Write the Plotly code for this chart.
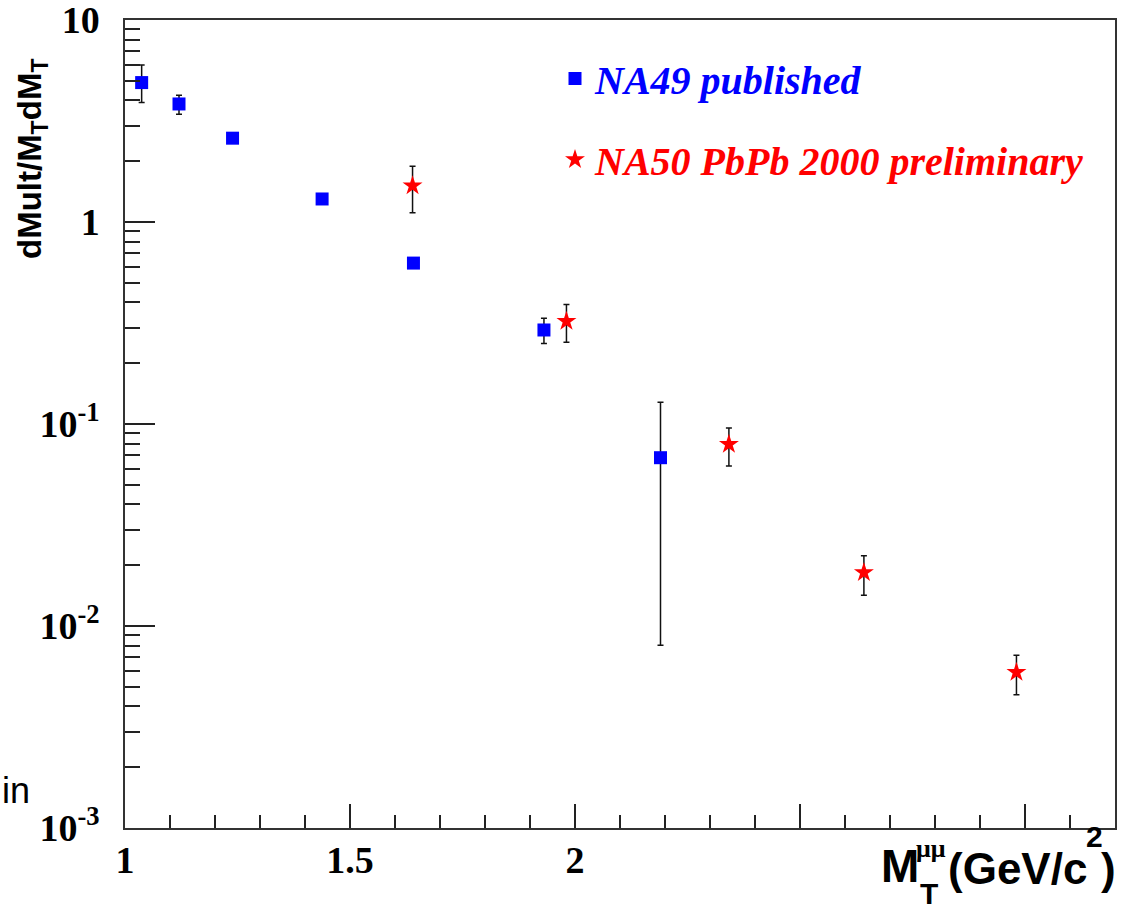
import plotly.graph_objects as go

# ---- NA49 published (blue squares) ----
na49_mt = [1.037, 1.120, 1.239, 1.438, 1.641, 1.931, 2.190]
na49_val = [4.90, 3.84, 2.60, 1.30, 0.626, 0.292, 0.0681]
na49_hi = [5.99, 4.24, None, None, None, 0.334, 0.128]
na49_lo = [3.91, 3.42, None, None, None, 0.250, 0.00802]

# ---- NA50 PbPb 2000 preliminary (red stars) ----
na50_mt = [1.639, 1.981, 2.342, 2.642, 2.981]
na50_val = [1.51, 0.323, 0.0793, 0.0184, 0.0059]
na50_hi = [1.89, 0.391, 0.0955, 0.0223, 0.00716]
na50_lo = [1.11, 0.254, 0.0619, 0.0142, 0.00457]

# ---- axis ticks ----
x_major = [1, 1.5, 2, 2.5, 3]
x_major_text = ["1", "1.5", "2", "", ""]
y_major = [0.001, 0.01, 0.1, 1, 10]
y_major_text = ["10<sup>-3</sup>", "10<sup>-2</sup>", "10<sup>-1</sup>", "1", "10"]
y_minor = [k * 10.0 ** e for e in range(-3, 1) for k in range(2, 10)]


def err_plus(vals, hi):
    return [None if h is None else h - v for v, h in zip(vals, hi)]


def err_minus(vals, lo):
    return [None if l is None else v - l for v, l in zip(vals, lo)]


W, H = 1134, 917
L, R, T, B = 125, 19, 20, 89
PW, PH = W - L - R, H - T - B


def px(xp):
    return (xp - L) / PW


def py(yp):
    return (H - B - yp) / PH


fig = go.Figure()

fig.add_trace(go.Scatter(
    x=na49_mt, y=na49_val, mode="markers",
    name="<span style='color:#0000ff'>NA49 published</span>",
    legendgroup="na49",
    marker=dict(symbol="square", size=13, color="#0000ff",
                line=dict(width=0)),
    error_y=dict(type="data", symmetric=False,
                 array=err_plus(na49_val, na49_hi),
                 arrayminus=err_minus(na49_val, na49_lo),
                 color="#111111", thickness=1.5, width=3),
))

fig.add_trace(go.Scatter(
    x=na50_mt, y=na50_val, mode="markers",
    name="<span style='color:#ff0000'>NA50 PbPb 2000 preliminary</span>",
    legendgroup="na50",
    marker=dict(symbol="star", size=15, color="#ff0000",
                line=dict(width=0)),
    error_y=dict(type="data", symmetric=False,
                 array=err_plus(na50_val, na50_hi),
                 arrayminus=err_minus(na50_val, na50_lo),
                 color="#111111", thickness=1.5, width=3),
))

tick_font = dict(family="Liberation Serif", size=38, color="black",
                 weight="bold")

fig.update_xaxes(
    range=[1, 3.2], showgrid=False, zeroline=False, automargin=False,
    showline=True, linecolor="#333333", linewidth=1.5, mirror=True,
    tickmode="array", tickvals=x_major, ticktext=x_major_text,
    ticks="inside", ticklen=24, tickwidth=1.5, tickcolor="#222222",
    tickfont=tick_font, ticklabelstandoff=-2, ticklabeloverflow="allow",
    minor=dict(ticks="inside", ticklen=13, tickwidth=1.5,
               tickcolor="#222222", dtick=0.1, tick0=1, showgrid=False),
)

fig.update_yaxes(
    type="log", range=[-3, 1], showgrid=False, zeroline=False,
    automargin=False,
    showline=True, linecolor="#333333", linewidth=1.5, mirror=True,
    tickmode="array", tickvals=y_major, ticktext=y_major_text,
    ticks="inside", ticklen=30, tickwidth=1.5, tickcolor="#222222",
    tickfont=tick_font, ticklabelstandoff=16, ticklabeloverflow="allow",
    minor=dict(ticks="inside", ticklen=15, tickwidth=1.5,
               tickcolor="#222222", tickmode="array", tickvals=y_minor,
               showgrid=False),
)

sans_bold = dict(family="Liberation Sans", color="black", weight="bold")


def note(text, x, y, size, xanchor="left", font=None, **kw):
    f = dict(size=size, **(font or sans_bold))
    return dict(text=text, x=px(x), y=py(y), xref="paper", yref="paper",
                xanchor=xanchor, yanchor="middle", showarrow=False,
                font=f, **kw)


annotations = [
    # y-axis title
    note("dMult/M<sub>T</sub>dM<sub>T</sub>", 32, 159, 33,
         xanchor="center", textangle=-90),
    # x-axis title pieces
    note("M", 879, 866, 46),
    note("\u03bc\u03bc", 914, 849, 26,
         font=dict(family="Liberation Serif", color="black", weight="bold")),
    note("T", 918, 893, 30),
    note("(GeV/c", 946, 868, 44),
    note("2", 1084, 836, 30),
    note(")", 1118, 868, 44, xanchor="right"),
    # stray label in the lower-left corner
    note("in", 0, 790, 36,
         font=dict(family="Liberation Sans", color="black")),
]

fig.update_layout(
    width=W, height=H,
    margin=dict(l=L, r=R, t=T, b=B, pad=0),
    paper_bgcolor="white", plot_bgcolor="white",
    showlegend=True,
    legend=dict(x=px(555), y=py(46), xanchor="left", yanchor="top",
                bgcolor="rgba(0,0,0,0)", borderwidth=0,
                traceorder="grouped", tracegroupgap=26,
                font=dict(family="Liberation Serif", size=40,
                          style="italic", weight="bold")),
    annotations=annotations,
)

fig.write_html("out.html")
